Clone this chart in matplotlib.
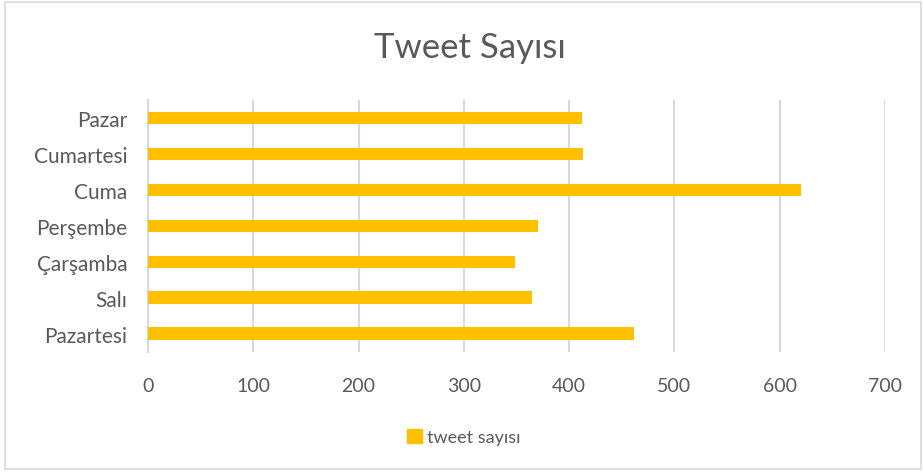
import matplotlib
matplotlib.use("Agg")
import matplotlib.pyplot as plt
from matplotlib.patches import Rectangle, Patch

days = ["Pazartesi", "Salı", "Çarşamba", "Perşembe", "Cuma", "Cumartesi", "Pazar"]
tweets = [462, 365, 349, 370, 620, 413, 412]
xticks = [0, 100, 200, 300, 400, 500, 600, 700]

BAR = "#FFC000"
GRID = "#D9D9D9"
TXT = "#595959"
plt.rcParams["font.family"] = ["Lato", "DejaVu Sans"]

fig = plt.figure(figsize=(9.24, 4.77), dpi=100)
ax = fig.add_axes([148/924, 1-352.7/477, (885-148)/924, (352.7-101)/477])

ax.barh(range(len(days)), tweets, height=0.35, color=BAR, zorder=3)
ax.set_ylim(-0.5, len(days)-0.5)
ax.set_xlim(0, 700)
ax.set_xticks(xticks)
ax.set_yticks(range(len(days)))
ax.set_yticklabels(days)
ax.tick_params(axis="both", length=0, labelsize=14, colors=TXT)
ax.tick_params(axis="y", labelsize=15, pad=15)
ax.tick_params(axis="x", pad=18)
ax.grid(axis="x", color=GRID, lw=1.5, zorder=0)
for s in ["top", "right", "bottom"]:
    ax.spines[s].set_visible(False)
ax.spines["left"].set_color(GRID)
ax.spines["left"].set_linewidth(1.5)

fig.text(0.508, 1-48/477, "Tweet Sayısı", ha="center", va="center",
         fontsize=25, color=TXT)
fig.legend(handles=[Patch(color=BAR, label="tweet sayısı")],
           loc="center", bbox_to_anchor=(0.502, 1-438/477), frameon=False,
           fontsize=13, handlelength=0.8, handleheight=0.8, handletextpad=0.3,
           labelcolor=TXT)
fig.patches.append(Rectangle((5/924, 1-470/477), 916/924, 467/477,
                             transform=fig.transFigure, fill=False,
                             edgecolor=GRID, lw=1.2))
fig.savefig("out.png", dpi=100)
